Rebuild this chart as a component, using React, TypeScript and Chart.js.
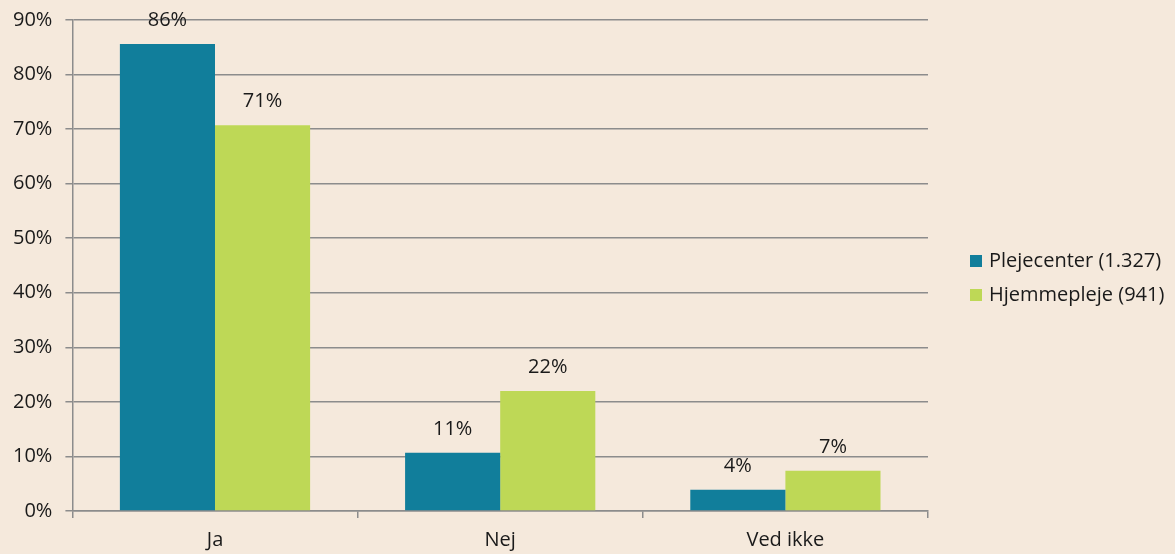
import React, { useEffect, useRef } from "react";
import { Chart, registerables } from "chart.js";

Chart.register(...registerables);

const categories = ["Ja", "Nej", "Ved ikke"];
const plejecenter = [85.6, 10.7, 3.9];
const hjemmepleje = [70.7, 22.0, 7.4];
const plejecenterLabels = ["86%", "11%", "4%"];
const hjemmeplejeLabels = ["71%", "22%", "7%"];
const seriesNames = ["Plejecenter (1.327)", "Hjemmepleje (941)"];
const yTicks = [0, 10, 20, 30, 40, 50, 60, 70, 80, 90];

const BG = "#F5E9DC";
const BLUE = "#117E9B";
const GREEN = "#BED856";
const GRID = "#8C8C8C";
const FONT = "'Open Sans', 'Noto Sans', sans-serif";
const FS = 20;

export default function App() {
  const ref = useRef<HTMLCanvasElement | null>(null);

  useEffect(() => {
    document.body.style.margin = "0";
    document.body.style.background = BG;
    const canvas = ref.current!;
    const labelPlugin = {
      id: "extras",
      beforeDraw(chart: any) {
        const ctx = chart.ctx;
        ctx.save();
        ctx.fillStyle = BG;
        ctx.fillRect(0, 0, chart.width, chart.height);
        ctx.restore();
      },
      afterDatasetsDraw(chart: any) {
        const ctx = chart.ctx;
        ctx.save();
        ctx.font = `${FS}px ${FONT}`;
        ctx.fillStyle = "#1a1a1a";
        ctx.textAlign = "center";
        ctx.textBaseline = "alphabetic";
        const lbls = [plejecenterLabels, hjemmeplejeLabels];
        chart.data.datasets.forEach((ds: any, i: number) => {
          const meta = chart.getDatasetMeta(i);
          meta.data.forEach((bar: any, j: number) => {
            ctx.fillText(lbls[i][j], bar.x, bar.y - 18);
          });
        });
        // legend
        const area = chart.chartArea;
        const lx = area.right + 42;
        const colors = [BLUE, GREEN];
        seriesNames.forEach((name, i) => {
          const cy = 261 + i * 34;
          ctx.fillStyle = colors[i];
          ctx.fillRect(lx, cy - 6, 12, 12);
          ctx.fillStyle = "#1a1a1a";
          ctx.textAlign = "left";
          ctx.textBaseline = "middle";
          ctx.fillText(name, lx + 19, cy);
        });
        ctx.restore();
      },
    };

    const chart = new Chart(canvas, {
      type: "bar",
      data: {
        labels: categories,
        datasets: [
          {
            label: seriesNames[0],
            data: plejecenter,
            backgroundColor: BLUE,
            categoryPercentage: 0.667,
            barPercentage: 1,
          },
          {
            label: seriesNames[1],
            data: hjemmepleje,
            backgroundColor: GREEN,
            categoryPercentage: 0.667,
            barPercentage: 1,
          },
        ],
      },
      options: {
        animation: false,
        responsive: false,
        maintainAspectRatio: false,
        layout: { padding: { top: 20, right: 247, left: 0, bottom: 0 } },
        plugins: {
          legend: { display: false },
          tooltip: { enabled: false },
        },
        scales: {
          x: {
            afterFit(scale: any) {
              scale.height = 43;
            },
            grid: {
              display: true,
              drawOnChartArea: false,
              drawTicks: true,
              tickLength: 7,
              color: GRID,
              lineWidth: 1.5,
            },
            border: { display: true, color: GRID, width: 1.5 },
            ticks: {
              color: "#1a1a1a",
              font: { family: FONT, size: FS },
              padding: 10,
            },
          },
          y: {
            min: 0,
            max: 90,
            afterBuildTicks(axis: any) {
              axis.ticks = yTicks.map((v) => ({ value: v }));
            },
            afterFit(scale: any) {
              scale.paddingTop = 12;
              scale.paddingBottom = 0;
            },
            grid: {
              color: GRID,
              lineWidth: 1.5,
              tickLength: 7,
              drawTicks: true,
            },
            border: { display: true, color: GRID, width: 1.5 },
            ticks: {
              color: "#1a1a1a",
              font: { family: FONT, size: FS },
              padding: 13,
              callback: (v: any) => `${v}%`,
            },
          },
        },
      },
      plugins: [labelPlugin],
    });
    return () => chart.destroy();
  }, []);

  return (
    <div style={{ width: 1175, height: 554, background: BG }}>
      <canvas ref={ref} width={1175} height={554} style={{ display: "block" }} />
    </div>
  );
}
